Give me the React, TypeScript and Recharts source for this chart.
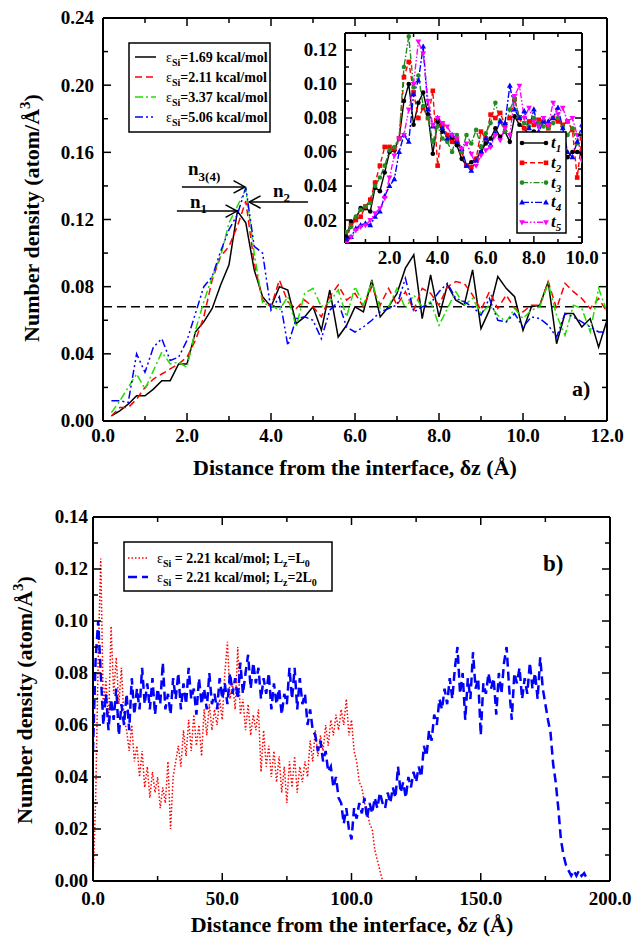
import React from 'react'
import { LineChart, Line, XAxis, YAxis, ReferenceLine } from 'recharts'

const FONT = '"Liberation Serif", "Times New Roman", Times, serif'

// panel a: density profiles, bins of 0.2 A from 0.2 to 12.0
const eps169 = [
  0.003, 0.006, 0.010, 0.015, 0.015, 0.019, 0.024, 0.024, 0.034, 0.034,
  0.053, 0.059, 0.067, 0.081, 0.093, 0.125, 0.118, 0.090, 0.074, 0.068,
  0.080, 0.078, 0.058, 0.062, 0.068, 0.054, 0.078, 0.050, 0.057, 0.068,
  0.065, 0.084, 0.062, 0.068, 0.076, 0.091, 0.099, 0.061, 0.087, 0.062,
  0.081, 0.072, 0.069, 0.090, 0.055, 0.066, 0.086, 0.079, 0.074, 0.054,
  0.068, 0.069, 0.083, 0.046, 0.064, 0.064, 0.056, 0.061, 0.044, 0.060,
]
const eps211 = [
  0.003, 0.008, 0.008, 0.013, 0.020, 0.025, 0.028, 0.031, 0.034, 0.038,
  0.048, 0.062, 0.084, 0.098, 0.104, 0.116, 0.131, 0.094, 0.072, 0.068,
  0.084, 0.071, 0.067, 0.072, 0.068, 0.062, 0.074, 0.081, 0.072, 0.076,
  0.068, 0.080, 0.069, 0.079, 0.069, 0.077, 0.066, 0.079, 0.076, 0.069,
  0.080, 0.083, 0.082, 0.075, 0.066, 0.077, 0.067, 0.075, 0.067, 0.065,
  0.069, 0.069, 0.083, 0.067, 0.082, 0.077, 0.073, 0.067, 0.073, 0.065,
]
const eps337 = [
  0.005, 0.012, 0.020, 0.028, 0.019, 0.030, 0.041, 0.034, 0.035, 0.032,
  0.054, 0.071, 0.086, 0.098, 0.118, 0.128, 0.138, 0.100, 0.070, 0.069,
  0.066, 0.074, 0.056, 0.076, 0.079, 0.068, 0.071, 0.078, 0.062, 0.080,
  0.069, 0.083, 0.067, 0.068, 0.079, 0.067, 0.075, 0.068, 0.071, 0.057,
  0.067, 0.077, 0.069, 0.073, 0.064, 0.069, 0.063, 0.059, 0.067, 0.061,
  0.066, 0.068, 0.082, 0.063, 0.051, 0.069, 0.067, 0.053, 0.079, 0.065,
]
const eps506 = [
  0.012, 0.012, 0.011, 0.040, 0.029, 0.044, 0.049, 0.036, 0.038, 0.048,
  0.064, 0.080, 0.086, 0.101, 0.114, 0.123, 0.139, 0.104, 0.100, 0.066,
  0.074, 0.045, 0.061, 0.062, 0.060, 0.049, 0.066, 0.071, 0.056, 0.053,
  0.056, 0.060, 0.065, 0.067, 0.069, 0.085, 0.065, 0.068, 0.070, 0.077,
  0.082, 0.073, 0.071, 0.068, 0.063, 0.073, 0.060, 0.059, 0.064, 0.056,
  0.062, 0.061, 0.057, 0.050, 0.064, 0.062, 0.059, 0.056, 0.053, 0.053,
]

// inset: snapshots t1..t5, bins of 0.2 A from 0.2 to 10.0
const t1 = [
  0.010, 0.019, 0.021, 0.027, 0.027, 0.025, 0.039, 0.037, 0.048, 0.060,
  0.061, 0.068, 0.090, 0.100, 0.076, 0.089, 0.095, 0.082, 0.059, 0.078,
  0.072, 0.070, 0.068, 0.064, 0.056, 0.052, 0.054, 0.056, 0.060, 0.065,
  0.068, 0.074, 0.069, 0.072, 0.066, 0.081, 0.076, 0.074, 0.070, 0.072,
  0.068, 0.070, 0.066, 0.064, 0.058, 0.057, 0.057, 0.060, 0.060, 0.059,
]
const t2 = [
  0.008, 0.017, 0.020, 0.022, 0.028, 0.032, 0.042, 0.052, 0.063, 0.063,
  0.062, 0.068, 0.104, 0.113, 0.095, 0.080, 0.086, 0.080, 0.096, 0.052,
  0.076, 0.070, 0.066, 0.067, 0.060, 0.052, 0.051, 0.056, 0.072, 0.068,
  0.082, 0.080, 0.083, 0.076, 0.080, 0.091, 0.080, 0.074, 0.078, 0.076,
  0.079, 0.078, 0.074, 0.080, 0.078, 0.076, 0.078, 0.073, 0.045, 0.068,
]
const t3 = [
  0.013, 0.016, 0.022, 0.026, 0.028, 0.030, 0.040, 0.045, 0.052, 0.061,
  0.063, 0.068, 0.110, 0.128, 0.098, 0.105, 0.087, 0.080, 0.066, 0.075,
  0.068, 0.066, 0.060, 0.070, 0.060, 0.070, 0.065, 0.073, 0.063, 0.071,
  0.077, 0.089, 0.078, 0.072, 0.085, 0.091, 0.080, 0.077, 0.075, 0.080,
  0.077, 0.075, 0.074, 0.077, 0.080, 0.075, 0.070, 0.074, 0.065, 0.070,
]
const t4 = [
  0.009, 0.010, 0.015, 0.017, 0.018, 0.017, 0.022, 0.025, 0.034, 0.040,
  0.044, 0.060, 0.070, 0.066, 0.094, 0.102, 0.122, 0.085, 0.075, 0.080,
  0.074, 0.068, 0.070, 0.066, 0.062, 0.052, 0.049, 0.055, 0.060, 0.068,
  0.064, 0.071, 0.078, 0.077, 0.099, 0.085, 0.080, 0.084, 0.074, 0.085,
  0.072, 0.078, 0.078, 0.080, 0.086, 0.074, 0.060, 0.057, 0.066, 0.076,
]
const t5 = [
  0.006, 0.010, 0.014, 0.016, 0.017, 0.020, 0.024, 0.027, 0.033, 0.045,
  0.058, 0.068, 0.070, 0.085, 0.100, 0.125, 0.118, 0.090, 0.076, 0.080,
  0.077, 0.075, 0.070, 0.068, 0.062, 0.065, 0.059, 0.052, 0.058, 0.061,
  0.063, 0.070, 0.067, 0.074, 0.070, 0.093, 0.099, 0.080, 0.086, 0.078,
  0.075, 0.080, 0.076, 0.089, 0.082, 0.086, 0.078, 0.080, 0.070, 0.055,
]

// panel b: 1 A bins starting at 0
const lzL0 = [
  0.000, 0.030, 0.085, 0.124, 0.066, 0.078, 0.060, 0.098, 0.072, 0.086,
  0.068, 0.082, 0.062, 0.058, 0.050, 0.060, 0.046, 0.052, 0.040, 0.050,
  0.036, 0.044, 0.032, 0.042, 0.034, 0.040, 0.028, 0.036, 0.030, 0.046,
  0.020, 0.040, 0.046, 0.052, 0.044, 0.058, 0.048, 0.062, 0.050, 0.064,
  0.052, 0.060, 0.048, 0.066, 0.056, 0.068, 0.058, 0.066, 0.060, 0.070,
  0.062, 0.080, 0.092, 0.070, 0.076, 0.066, 0.090, 0.064, 0.070, 0.058,
  0.068, 0.056, 0.064, 0.058, 0.066, 0.042, 0.058, 0.044, 0.052, 0.040,
  0.050, 0.038, 0.048, 0.034, 0.044, 0.030, 0.046, 0.036, 0.048, 0.034,
  0.044, 0.038, 0.046, 0.040, 0.054, 0.046, 0.058, 0.048, 0.056, 0.050,
  0.060, 0.052, 0.062, 0.056, 0.064, 0.058, 0.066, 0.060, 0.070, 0.056,
  0.062, 0.050, 0.046, 0.038, 0.036, 0.030, 0.028, 0.022, 0.020, 0.012,
  0.008, 0.004, 0.000,
]
const lz2L0 = [
  0.050, 0.085, 0.100, 0.080, 0.060, 0.072, 0.058, 0.070, 0.062, 0.074,
  0.056, 0.068, 0.060, 0.072, 0.058, 0.078, 0.064, 0.074, 0.066, 0.082,
  0.068, 0.076, 0.066, 0.078, 0.064, 0.074, 0.068, 0.084, 0.066, 0.072,
  0.064, 0.078, 0.070, 0.080, 0.066, 0.076, 0.068, 0.082, 0.070, 0.074,
  0.064, 0.078, 0.068, 0.074, 0.066, 0.080, 0.068, 0.072, 0.066, 0.078,
  0.070, 0.076, 0.068, 0.080, 0.072, 0.078, 0.070, 0.084, 0.072, 0.080,
  0.087, 0.074, 0.084, 0.076, 0.082, 0.070, 0.078, 0.072, 0.080, 0.066,
  0.076, 0.068, 0.074, 0.064, 0.072, 0.068, 0.082, 0.070, 0.082, 0.066,
  0.078, 0.068, 0.072, 0.060, 0.066, 0.058, 0.056, 0.050, 0.054, 0.046,
  0.050, 0.042, 0.044, 0.036, 0.040, 0.032, 0.030, 0.022, 0.028, 0.020,
  0.016, 0.028, 0.024, 0.030, 0.026, 0.032, 0.024, 0.030, 0.026, 0.032,
  0.028, 0.034, 0.030, 0.028, 0.034, 0.030, 0.036, 0.032, 0.044, 0.034,
  0.038, 0.032, 0.040, 0.036, 0.042, 0.038, 0.044, 0.040, 0.052, 0.048,
  0.058, 0.054, 0.064, 0.060, 0.070, 0.066, 0.074, 0.068, 0.078, 0.070,
  0.082, 0.090, 0.072, 0.080, 0.062, 0.078, 0.070, 0.088, 0.074, 0.078,
  0.056, 0.076, 0.072, 0.080, 0.074, 0.078, 0.064, 0.080, 0.072, 0.084,
  0.090, 0.074, 0.062, 0.080, 0.076, 0.082, 0.070, 0.078, 0.072, 0.084,
  0.074, 0.080, 0.070, 0.086, 0.074, 0.068, 0.062, 0.057, 0.045, 0.038,
  0.028, 0.016, 0.010, 0.006, 0.004, 0.002, 0.004, 0.002, 0.004, 0.002,
  0.003, 0.001, 0.000,
]

// ticks (major ones get labels on the bottom / left)
const majorXA = [0, 2, 4, 6, 8, 10, 12]
const minorXA = [1, 3, 5, 7, 9, 11]
const majorYA = [0, 0.04, 0.08, 0.12, 0.16, 0.2, 0.24]
const minorYA = [0.02, 0.06, 0.1, 0.14, 0.18, 0.22]
const majorXIn = [2, 4, 6, 8, 10]
const minorXIn = [1, 3, 5, 7, 9]
const majorYIn = [0.02, 0.04, 0.06, 0.08, 0.1, 0.12]
const minorYIn = [0.01, 0.03, 0.05, 0.07, 0.09, 0.11]
const majorXB = [0, 50, 100, 150, 200]
const minorXB = [25, 75, 125, 175]
const majorYB = [0, 0.02, 0.04, 0.06, 0.08, 0.1, 0.12, 0.14]
const minorYB = [0.01, 0.03, 0.05, 0.07, 0.09, 0.11, 0.13]

const bulkDensity = 0.068

const seriesA = [
  { key: 'e169', values: eps169, eps: '1.69', color: '#000000', dash: undefined },
  { key: 'e211', values: eps211, eps: '2.11', color: '#ff0000', dash: '7 4' },
  { key: 'e337', values: eps337, eps: '3.37', color: '#22dd00', dash: '8 3 2 3' },
  { key: 'e506', values: eps506, eps: '5.06', color: '#0000ff', dash: '8 3 2 3 2 3' },
]
const seriesIn = [
  { key: 't1', values: t1, n: '1', color: '#000000', dash: undefined, marker: 'circle' },
  { key: 't2', values: t2, n: '2', color: '#ff0000', dash: '5 3', marker: 'square' },
  { key: 't3', values: t3, n: '3', color: '#228b22', dash: '6 2 1.5 2', marker: 'circle' },
  { key: 't4', values: t4, n: '4', color: '#0000ff', dash: '7 2 2 2', marker: 'tri' },
  { key: 't5', values: t5, n: '5', color: '#ff00ff', dash: '6 2 1.5 2 1.5 2', marker: 'triDown' },
]
const seriesB = [
  { key: 'l0', values: lzL0, lz: 'L', color: '#ff0000', dash: '1.5 2', width: 1.5 },
  { key: 'l2', values: lz2L0, lz: '2L', color: '#0000ff', dash: '9 5', width: 2.5 },
]

// arrow annotations in data units of panel a
const arrowsA = [
  { from: { x: 1.88, y: 0.1394 }, to: { x: 3.38, y: 0.1394 } },
  { from: { x: 1.76, y: 0.125 }, to: { x: 3.19, y: 0.125 } },
  { from: { x: 4.88, y: 0.1304 }, to: { x: 3.48, y: 0.1304 } },
]

const rowsA = eps169.map((_, i) => {
  const r: any = { x: +(0.2 * (i + 1)).toFixed(1) }
  seriesA.forEach((s) => (r[s.key] = s.values[i]))
  return r
})
const rowsIn = t1.map((_, i) => {
  const r: any = { x: +(0.2 * (i + 1)).toFixed(1) }
  seriesIn.forEach((s) => (r[s.key] = s.values[i]))
  return r
})
const rowsB = lz2L0.map((_, i) => {
  const r: any = { x: i }
  seriesB.forEach((s) => (r[s.key] = i < s.values.length ? s.values[i] : null))
  return r
})

const frameStyle = { stroke: '#000', strokeWidth: 2 }

// inward tick marks, long for majors; labels only where fmt is given
function makeTick(side: string, majors: number[], fmt: any, big: number, small: number, gap: number) {
  return (p: any) => {
    const { x, y, payload, index } = p
    const v = payload.value
    const isMajor = majors.some((m) => Math.abs(m - v) < 1e-9)
    const len = isMajor ? big : small
    let l = { x1: x, y1: y, x2: x, y2: y }
    if (side === 'bottom') l.y2 = y - len
    if (side === 'top') l.y2 = y + len
    if (side === 'left') l.x2 = x + len
    if (side === 'right') l.x2 = x - len
    const txt = { fontFamily: FONT, fontSize: 19, fontWeight: 700, fill: '#000' }
    return (
      <g key={index}>
        <line {...l} stroke="#000" strokeWidth={1.5} />
        {fmt && isMajor && side === 'bottom' && (
          <text x={x} y={y + gap} dy="0.71em" textAnchor="middle" {...txt}>{fmt(v)}</text>
        )}
        {fmt && isMajor && side === 'left' && (
          <text x={x - gap} y={y} dy="0.34em" textAnchor="end" {...txt}>{fmt(v)}</text>
        )}
      </g>
    )
  }
}

function frameAxes(o: any) {
  const xt = [...o.xMajor, ...o.xMinor].sort((a, b) => a - b)
  const yt = [...o.yMajor, ...o.yMinor].sort((a, b) => a - b)
  const common = { type: 'number' as const, allowDataOverflow: true, interval: 0 as const, tickLine: false, tickSize: 0, tickMargin: 0, axisLine: frameStyle }
  const fx = (v: number) => v.toFixed(1)
  const fy = (v: number) => v.toFixed(2)
  return [
    <XAxis key="x" xAxisId="x" {...common} dataKey="x" domain={o.xd} ticks={xt} height={1}
      tick={makeTick('bottom', o.xMajor, fx, o.major, o.minor, o.xGap)} />,
    <XAxis key="xt" xAxisId="xt" orientation="top" {...common} dataKey="x" domain={o.xd} ticks={xt} height={1}
      tick={makeTick('top', o.xMajor, null, o.major, o.minor, 0)} />,
    <YAxis key="y" yAxisId="y" {...common} domain={o.yd} ticks={yt} width={1}
      tick={makeTick('left', o.yMajor, fy, o.major, o.minor, o.yGap)} />,
    <YAxis key="yr" yAxisId="yr" orientation="right" {...common} domain={o.yd} ticks={yt} width={1}
      tick={makeTick('right', o.yMajor, null, o.major, o.minor, 0)} />,
  ]
}

function Marker({ kind, cx, cy, color }: any) {
  if (cx == null || cy == null) return null
  if (kind === 'square') return <rect x={cx - 2.3} y={cy - 2.3} width={4.6} height={4.6} fill={color} />
  if (kind === 'tri') return <polygon points={`${cx},${cy - 3.2} ${cx - 2.9},${cy + 2} ${cx + 2.9},${cy + 2}`} fill={color} />
  if (kind === 'triDown') return <polygon points={`${cx},${cy + 3.2} ${cx - 2.9},${cy - 2} ${cx + 2.9},${cy - 2}`} fill={color} />
  return <circle cx={cx} cy={cy} r={2.3} fill={color} />
}

function arrowShape(props: any) {
  const { x1, y1, x2, y2 } = props
  const ang = Math.atan2(y2 - y1, x2 - x1)
  const len = 13
  const a = 0.5
  const p1 = `${x2 - len * Math.cos(ang - a)},${y2 - len * Math.sin(ang - a)}`
  const p2 = `${x2 - len * Math.cos(ang + a)},${y2 - len * Math.sin(ang + a)}`
  return (
    <g>
      <line x1={x1} y1={y1} x2={x2} y2={y2} stroke="#000" strokeWidth={1.5} />
      <polyline points={`${p1} ${x2},${y2} ${p2}`} fill="none" stroke="#000" strokeWidth={1.5} />
    </g>
  )
}

function PanelA() {
  return (
    <LineChart width={634} height={480} data={rowsA} margin={{ top: 17, right: 26, bottom: 58, left: 102 }}>
      {frameAxes({
        xd: [0, 12], yd: [0, 0.24], xMajor: majorXA, xMinor: minorXA, yMajor: majorYA, yMinor: minorYA,
        major: 8, minor: 5, xGap: 8, yGap: 9,
      })}
      <ReferenceLine xAxisId="x" yAxisId="y" y={bulkDensity} stroke="#000" strokeWidth={1.6} strokeDasharray="9 5" />
      {seriesA.map((s) => (
        <Line key={s.key} xAxisId="x" yAxisId="y" dataKey={s.key} type="linear" stroke={s.color}
          strokeWidth={1.5} strokeDasharray={s.dash} dot={false} activeDot={false} isAnimationActive={false} />
      ))}
      {arrowsA.map((a, i) => (
        <ReferenceLine key={'arr' + i} xAxisId="x" yAxisId="y" segment={[a.from, a.to]} shape={arrowShape} ifOverflow="visible" />
      ))}
    </LineChart>
  )
}

function Inset() {
  return (
    <LineChart width={310} height={255} data={rowsIn} margin={{ top: 7, right: 17, bottom: 36, left: 54 }}>
      {frameAxes({
        xd: [0.15, 10], yd: [0.0065, 0.13], xMajor: majorXIn, xMinor: minorXIn, yMajor: majorYIn, yMinor: minorYIn,
        major: 7, minor: 4, xGap: 8, yGap: 8,
      })}
      {seriesIn.map((s) => (
        <Line key={s.key} xAxisId="x" yAxisId="y" dataKey={s.key} type="linear" stroke={s.color}
          strokeWidth={1.4} strokeDasharray={s.dash} activeDot={false} isAnimationActive={false}
          dot={(p: any) => <Marker key={p.index} kind={s.marker} cx={p.cx} cy={p.cy} color={s.color} />} />
      ))}
    </LineChart>
  )
}

function PanelB() {
  return (
    <LineChart width={634} height={465} data={rowsB} margin={{ top: 36, right: 23, bottom: 63, left: 92 }}>
      {frameAxes({
        xd: [0, 200], yd: [0, 0.14], xMajor: majorXB, xMinor: minorXB, yMajor: majorYB, yMinor: minorYB,
        major: 8, minor: 5, xGap: 11, yGap: 5,
      })}
      {seriesB.map((s) => (
        <Line key={s.key} xAxisId="x" yAxisId="y" dataKey={s.key} type="linear" stroke={s.color}
          strokeWidth={s.width} strokeDasharray={s.dash} dot={false} activeDot={false}
          connectNulls={false} isAnimationActive={false} />
      ))}
    </LineChart>
  )
}

function YTitle({ x, y }: { x: number; y: number }) {
  return (
    <text transform={`translate(${x},${y}) rotate(-90)`} textAnchor="middle" fontSize={22} fontWeight={700}>
      Number density (atom/Å<tspan dy={-9} fontSize={15}>3</tspan><tspan dy={9}>)</tspan>
    </text>
  )
}

function Overlay() {
  return (
    <svg width={634} height={945} style={{ position: 'absolute', left: 0, top: 0, pointerEvents: 'none' }}
      fontFamily={FONT} fill="#000">
      {/* panel a titles */}
      <YTitle x={39} y={218} />
      <text x={355} y={475} textAnchor="middle" fontSize={22} fontWeight={700}>
        Distance from the interface, δz (Å)
      </text>
      <text x={572} y={396} fontSize={22} fontWeight={700}>a)</text>

      {/* peak labels */}
      <text x={188} y={175} fontSize={19} fontWeight={700}>n<tspan dy={6} fontSize={13}>3(4)</tspan></text>
      <text x={190} y={208} fontSize={19} fontWeight={700}>n<tspan dy={5} fontSize={13}>1</tspan></text>
      <text x={273} y={197} fontSize={19} fontWeight={700}>n<tspan dy={5} fontSize={13}>2</tspan></text>

      {/* legend a */}
      <rect x={129} y={43} width={141} height={89} fill="#fff" stroke="#000" strokeWidth={1.5} />
      {seriesA.map((s, i) => {
        const cy = 57 + i * 20
        return (
          <g key={s.key}>
            <line x1={135} x2={156} y1={cy} y2={cy} stroke={s.color} strokeWidth={1.5} strokeDasharray={s.dash} />
            <text x={166} y={cy + 5} fontSize={14} fontWeight={700}>
              <tspan fontWeight={400}>ε</tspan><tspan dy={4} fontSize={10}>Si</tspan><tspan dy={-4}>={s.eps} kcal/mol</tspan>
            </text>
          </g>
        )
      })}

      {/* inset legend */}
      <rect x={517} y={132} width={49} height={101} fill="#fff" stroke="#000" strokeWidth={1.5} />
      {seriesIn.map((s, i) => {
        const cy = 143 + i * 19.8
        return (
          <g key={s.key}>
            <line x1={522} x2={546} y1={cy} y2={cy} stroke={s.color} strokeWidth={1.4} strokeDasharray={s.dash} />
            <Marker kind={s.marker} cx={522} cy={cy} color={s.color} />
            <Marker kind={s.marker} cx={546} cy={cy} color={s.color} />
            <text x={551} y={cy + 5} fontSize={17} fontWeight={700} fontStyle="italic">
              t<tspan dy={4} fontSize={11}>{s.n}</tspan>
            </text>
          </g>
        )
      })}

      {/* panel b titles */}
      <YTitle x={32} y={700} />
      <text x={352} y={932} textAnchor="middle" fontSize={22} fontWeight={700}>
        Distance from the interface, δ<tspan fontStyle="italic">z</tspan> (Å)
      </text>
      <text x={543} y={571} fontSize={23} fontWeight={700}>b)</text>

      {/* legend b */}
      <rect x={124} y={542} width={208} height={49} fill="#fff" stroke="#000" strokeWidth={1.5} />
      {seriesB.map((s, i) => {
        const cy = 558 + i * 19
        return (
          <g key={s.key}>
            <line x1={128} x2={148} y1={cy} y2={cy} stroke={s.color} strokeWidth={s.width} strokeDasharray={s.dash} />
            <text x={157} y={cy + 5} fontSize={14} fontWeight={700}>
              <tspan fontWeight={400}>ε</tspan><tspan dy={4} fontSize={10}>Si</tspan>
              <tspan dy={-4}> = 2.21 kcal/mol; L</tspan><tspan dy={4} fontSize={10}>z</tspan>
              <tspan dy={-4}>={s.lz}</tspan><tspan dy={4} fontSize={10}>0</tspan>
            </text>
          </g>
        )
      })}
    </svg>
  )
}

export default function App() {
  return (
    <div style={{ position: 'absolute', left: 0, top: 0, width: 634, height: 945, background: '#fff', fontFamily: FONT }}>
      <div style={{ position: 'absolute', left: 0, top: 0 }}>
        <PanelA />
      </div>
      <div style={{ position: 'absolute', left: 290, top: 25 }}>
        <Inset />
      </div>
      <div style={{ position: 'absolute', left: 0, top: 480 }}>
        <PanelB />
      </div>
      <Overlay />
    </div>
  )
}
